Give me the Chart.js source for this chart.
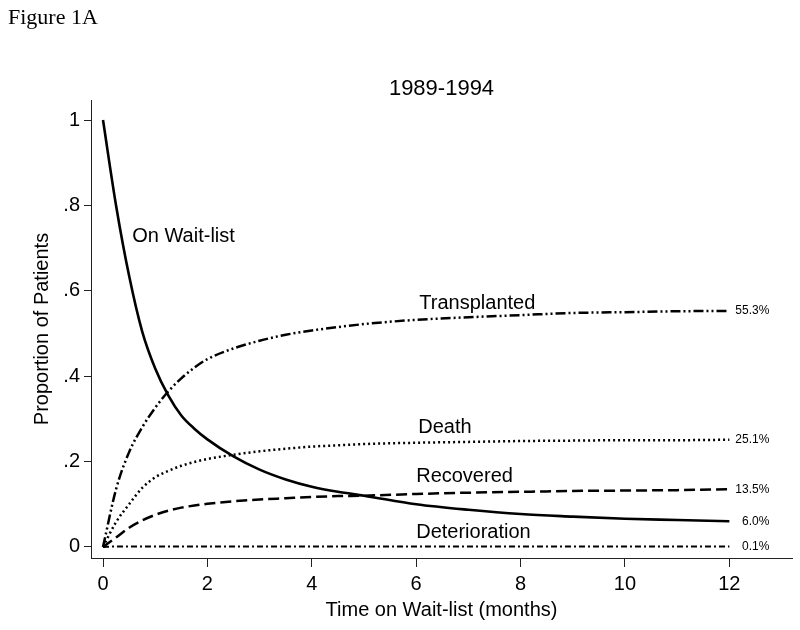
<!DOCTYPE html>
<html>
<head>
<meta charset="utf-8">
<script src="https://cdn.jsdelivr.net/npm/chart.js@4.4.0/dist/chart.umd.min.js"></script>
<style>
  html, body { margin: 0; padding: 0; background: #fff; }
  #wrap { width: 800px; height: 630px; position: relative; }
</style>
</head>
<body>
<div id="wrap"><canvas id="chart"></canvas></div>
<script>
// time points (months)
const months        = [0, 0.25, 0.5, 0.75, 1, 1.25, 1.5, 1.75, 2, 2.5, 3, 3.5, 4, 4.5, 5, 6, 7, 8, 9, 10, 11, 12];
const onWaitList    = [1.0, 0.80, 0.635, 0.505, 0.418, 0.355, 0.308, 0.277, 0.252, 0.212, 0.181, 0.158, 0.141, 0.129, 0.12, 0.10, 0.087, 0.077, 0.071, 0.066, 0.063, 0.060];
const transplanted  = [0, 0.135, 0.222, 0.28, 0.326, 0.364, 0.395, 0.42, 0.44, 0.465, 0.483, 0.497, 0.507, 0.515, 0.522, 0.532, 0.538, 0.543, 0.548, 0.55, 0.552, 0.553];
const death         = [0, 0.058, 0.10, 0.138, 0.163, 0.178, 0.19, 0.199, 0.206, 0.216, 0.224, 0.23, 0.235, 0.238, 0.241, 0.244, 0.246, 0.248, 0.249, 0.25, 0.25, 0.251];
const recovered     = [0, 0.022, 0.045, 0.062, 0.075, 0.085, 0.092, 0.097, 0.101, 0.107, 0.111, 0.114, 0.117, 0.119, 0.12, 0.124, 0.127, 0.129, 0.131, 0.132, 0.133, 0.135];
const deterioration = [0, 0.001, 0.001, 0.001, 0.001, 0.001, 0.001, 0.001, 0.001, 0.001, 0.001, 0.001, 0.001, 0.001, 0.001, 0.001, 0.001, 0.001, 0.001, 0.001, 0.001, 0.001];

const seriesNames = ['On Wait-list', 'Transplanted', 'Death', 'Recovered', 'Deterioration'];
const endLabels   = ['6.0%', '55.3%', '25.1%', '13.5%', '0.1%'];
const xTicks      = [0, 2, 4, 6, 8, 10, 12];
const yTicks      = [0, 0.2, 0.4, 0.6, 0.8, 1];
const yTickLabels = ['0', '.2', '.4', '.6', '.8', '1'];

// where the curve names sit (data units, left edge / vertical middle)
const nameSpots = [[0.56, 0.728], [6.06, 0.571], [6.04, 0.279], [6.0, 0.164], [6.0, 0.033]];

const FONT = "'Liberation Sans', Arial, sans-serif";

function pts(values) {
    return months.map((m, i) => ({ x: m, y: values[i] }));
}

const styles = [
    { dash: [], width: 2.6 },
    { dash: [10, 3, 2, 3, 2, 3], width: 2.5 },
    { dash: [2, 3], width: 2.5 },
    { dash: [11, 5], width: 2.5 },
    { dash: [6, 3, 2, 3], width: 2 }
];

const allSeries = [onWaitList, transplanted, death, recovered, deterioration];

const datasets = allSeries.map((vals, i) => ({
    label: seriesNames[i],
    data: pts(vals),
    borderColor: '#000',
    borderWidth: styles[i].width,
    borderDash: styles[i].dash,
    pointRadius: 0,
    fill: false,
    cubicInterpolationMode: 'monotone'
}));

// titles and in-plot text
const textPlugin = {
    id: 'texts',
    afterDatasetsDraw(chart) {
        const { ctx, chartArea } = chart;
        const xs = chart.scales.x, ys = chart.scales.y;
        ctx.save();
        ctx.fillStyle = '#000';

        ctx.font = "22px 'Liberation Serif', 'Times New Roman', serif";
        ctx.textAlign = 'left';
        ctx.textBaseline = 'alphabetic';
        ctx.fillText('Figure 1A', 8, 24);

        ctx.font = '22px ' + FONT;
        ctx.textAlign = 'center';
        ctx.textBaseline = 'middle';
        ctx.fillText('1989-1994', (chartArea.left + chartArea.right) / 2, 89);

        ctx.font = '20px ' + FONT;
        ctx.textAlign = 'left';
        nameSpots.forEach((p, i) => {
            ctx.fillText(seriesNames[i], xs.getPixelForValue(p[0]), ys.getPixelForValue(p[1]));
        });

        ctx.font = '12px ' + FONT;
        ctx.textAlign = 'right';
        const xEnd = xs.getPixelForValue(months[months.length - 1]) + 40;
        allSeries.forEach((vals, i) => {
            ctx.fillText(endLabels[i], xEnd, ys.getPixelForValue(vals[vals.length - 1]));
        });
        ctx.restore();
    }
};

new Chart(document.getElementById('chart'), {
    type: 'line',
    data: { datasets: datasets },
    options: {
        responsive: true,
        maintainAspectRatio: false,
        animation: false,
        layout: { padding: { top: 100, right: 8, left: 0, bottom: 0 } },
        plugins: { legend: { display: false }, tooltip: { enabled: false } },
        scales: {
            x: {
                type: 'linear',
                min: -0.23,
                max: 13.2,
                afterBuildTicks: s => { s.ticks = xTicks.map(v => ({ value: v })); },
                afterFit: s => { s.height = 72; },
                grid: { drawOnChartArea: false, drawTicks: true, tickLength: 9, color: '#222', tickWidth: 1 },
                border: { color: '#222', width: 1 },
                ticks: { color: '#000', font: { family: FONT, size: 20 }, padding: 5, maxRotation: 0, callback: v => String(v) },
                title: { display: true, text: 'Time on Wait-list (months)', color: '#000', font: { family: FONT, size: 20 }, padding: { top: 0, bottom: 8 } }
            },
            y: {
                type: 'linear',
                min: -0.026,
                max: 1.047,
                afterBuildTicks: s => { s.ticks = yTicks.map(v => ({ value: v })); },
                afterFit: s => { s.width = 91; },
                grid: { drawOnChartArea: false, drawTicks: true, tickLength: 7, color: '#222', tickWidth: 1 },
                border: { color: '#222', width: 1 },
                ticks: { color: '#000', font: { family: FONT, size: 20 }, padding: 4, callback: (v, i) => yTickLabels[i] },
                title: { display: true, text: 'Proportion of Patients', color: '#000', font: { family: FONT, size: 20 }, padding: { top: 30, bottom: 0 } }
            }
        }
    },
    plugins: [textPlugin]
});
</script>
</body>
</html>
